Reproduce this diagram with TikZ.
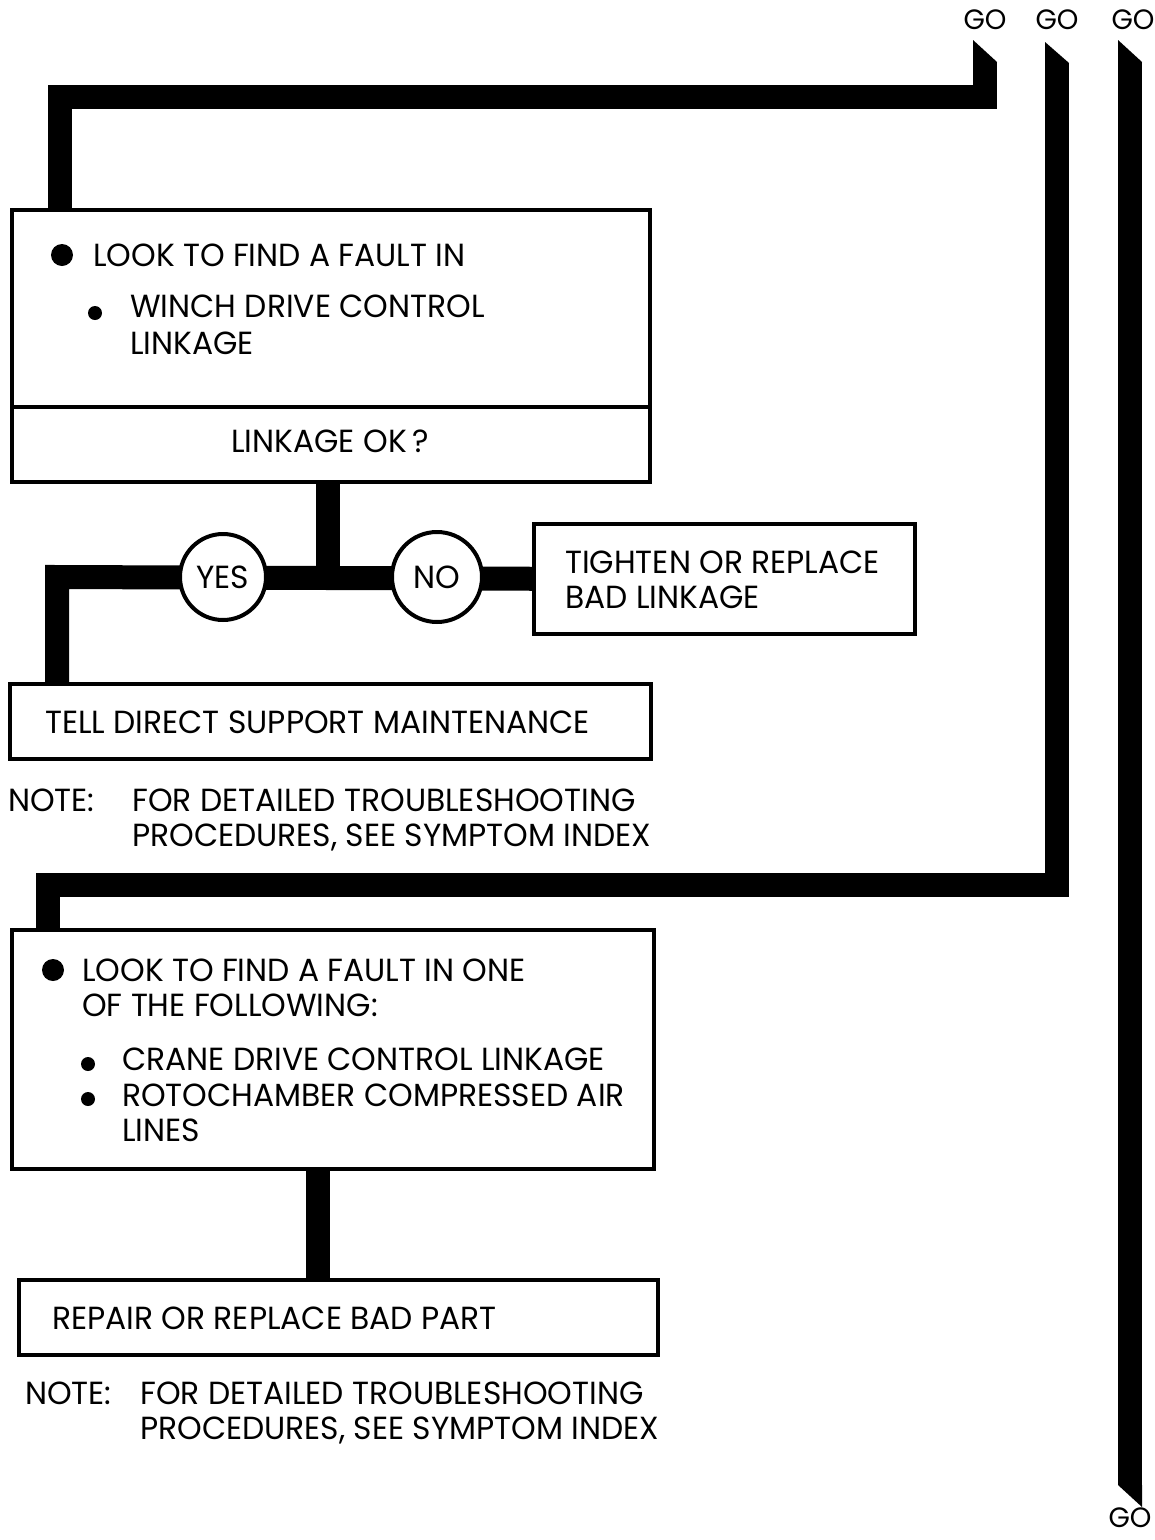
\documentclass[tikz,border=0pt]{standalone}
\usepackage{fontspec}
\setmainfont[FakeStretch=0.98]{Poppins}
\begin{document}
\begin{tikzpicture}[x=1pt,y=-1pt,
  box/.style={draw,line width=3.5pt,rectangle,inner sep=0pt,anchor=north west},
  conn/.style={line width=24pt,line cap=butt,line join=miter},
  tx/.style={anchor=base west,inner sep=0pt,font=\fontsize{32}{38}\selectfont},
  tc/.style={anchor=base,inner sep=0pt,font=\fontsize{32}{38}\selectfont},
  go/.style={anchor=base,inner sep=0pt,font=\fontsize{28}{33}\selectfont},
  ring/.style={draw,circle,fill=white,line width=4pt,inner sep=0pt,font=\fontsize{32}{38}\selectfont},
  bigdot/.style={circle,fill=black,inner sep=0pt,minimum size=22pt},
  smalldot/.style={circle,fill=black,inner sep=0pt,minimum size=14pt}]
\useasboundingbox[fill=white] (0,0) rectangle (1155,1540);

% GO labels
\node[go] (go1) at (985,29) {GO};
\node[go] (go2) at (1057,29) {GO};
\node[go] (go3) at (1133,29) {GO};
\node[go] (go4) at (1130,1527) {GO};

% boxes
\node[box,minimum width=638pt,minimum height=197pt] (b1) at (10,208) {};
\node[box,minimum width=638pt,minimum height=75pt] (b1q) at (10,405) {};
\node[box,minimum width=381pt,minimum height=110pt] (fix) at (532,522) {};
\node[box,minimum width=641pt,minimum height=75pt] (tell) at (8,682) {};
\node[box,minimum width=642pt,minimum height=239pt] (b3) at (10,928) {};
\node[box,minimum width=639pt,minimum height=75pt] (rep) at (17,1278) {};

% free ends of connectors
\coordinate (e1) at (985,62);
\coordinate (e2) at (1057,63);
\coordinate (e3t) at (1130,62);
\coordinate (e3b) at (1130,1485);
\coordinate (j) at (328,577);
\coordinate (yl) at (57,577);

% connectors
\draw[conn] (b1.north -| 60,0) -- (60,97) -| (e1);
\draw[conn] (b3.north -| 48,0) -- (48,885) -| (e2);
\draw[conn] (e3t) -- (e3b);
\draw[conn] (b1q.south -| j) -- (j);
\draw[conn] (tell.north -| yl) -- (yl) -- (fix.west);
\draw[conn] (b3.south -| 318,0) -- (rep.north -| 318,0);

% slanted ends
\fill (973,62) -- (973,40) -- (997,62) -- cycle;
\fill (1045,63) -- (1045,42) -- (1069,63) -- cycle;
\fill (1118,62) -- (1118,40) -- (1142,62) -- cycle;
\fill (1118,1485) -- (1142,1485) -- (1142,1507) -- cycle;

% decision circles
\node[ring,minimum size=86pt] (yes) at (223,577) {YES};
\node[ring,minimum size=90pt] (no) at (437,577) {NO};

% box 1 text
\node[bigdot] (d1) at (62,255) {};
\node[tx] (t1) at (93,266) {LOOK TO FIND A FAULT IN};
\node[smalldot] (d2) at (95,313) {};
\node[tx] (t2) at (130,317) {WINCH DRIVE CONTROL};
\node[tx] (t3) at (130,354) {LINKAGE};
\node[tc] (t4) at (330,452) {LINKAGE OK\,?};

% fix box text
\node[tx] (t5) at (565,573) {TIGHTEN OR REPLACE};
\node[tx] (t6) at (565,608) {BAD LINKAGE};

% tell box
\node[tx] (t7) at (45,733) {TELL DIRECT SUPPORT MAINTENANCE};

% note 1
\node[tx] (n1a) at (8,811) {NOTE:};
\node[tx] (n1b) at (132,811) {FOR DETAILED TROUBLESHOOTING};
\node[tx] (n1c) at (132,846) {PROCEDURES, SEE SYMPTOM INDEX};

% box 3 text
\node[bigdot] (d3) at (53,970) {};
\node[tx] (t8) at (82,981) {LOOK TO FIND A FAULT IN ONE};
\node[tx] (t9) at (82,1016) {OF THE FOLLOWING:};
\node[smalldot] (d4) at (88,1064) {};
\node[tx] (t10) at (122,1070) {CRANE DRIVE CONTROL LINKAGE};
\node[smalldot] (d5) at (88,1099) {};
\node[tx] (t11) at (122,1106) {ROTOCHAMBER COMPRESSED AIR};
\node[tx] (t12) at (122,1141) {LINES};

% box 4 text
\node[tx] (t13) at (52,1329) {REPAIR OR REPLACE BAD PART};

% note 2
\node[tx] (n2a) at (25,1404) {NOTE:};
\node[tx] (n2b) at (140,1404) {FOR DETAILED TROUBLESHOOTING};
\node[tx] (n2c) at (140,1439) {PROCEDURES, SEE SYMPTOM INDEX};
\end{tikzpicture}
\end{document}
